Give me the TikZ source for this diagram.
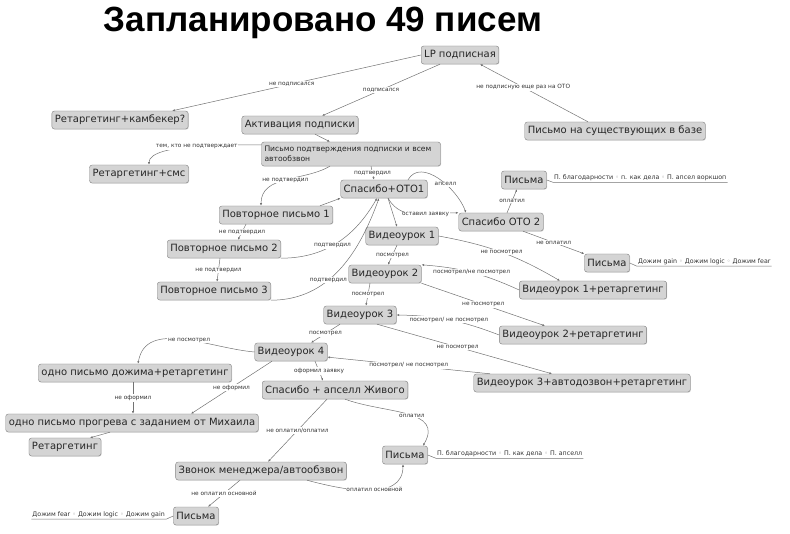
\documentclass[tikz,border=0pt]{standalone}
\usepackage{fontspec}
\setmainfont{DejaVu Sans}
\newfontfamily\titlefont{Liberation Sans}
\usetikzlibrary{arrows.meta,shadows}
\newcommand\lsep{{\color{black!40}◦}}
\begin{document}
\begin{tikzpicture}[x=1pt,y=-1pt,
    box/.style={draw=black!50,fill=black!17,rounded corners=2.5pt,text=black!85,
      font=\fontsize{10}{11.5}\selectfont,minimum height=18pt,inner xsep=3pt,inner ysep=1pt,
      drop shadow={shadow xshift=.6pt,shadow yshift=-.6pt,opacity=.35}},
    link/.style={draw=black!55,line width=.5pt,-{Latex[length=2.6pt,width=2.2pt]}},
    lbl/.style={font=\fontsize{5.8}{6.5}\selectfont,fill=white,inner sep=.8pt,text=black!80},
    lst/.style={font=\fontsize{6.3}{7}\selectfont,inner sep=1pt,text=black!80}]
  \useasboundingbox (0,0) rectangle (790,534);
  \node[font={\titlefont\fontsize{35}{40}\selectfont\bfseries}] (title) at (323,23) {Запланировано 49 писем};
  \node[box] (lp) at (460,55) {LP подписная};
  \node[box] (rk) at (120,120) {Ретаргетинг+камбекер?};
  \node[box] (act) at (300,125) {Активация подписки};
  \node[box] (ex) at (615,131) {Письмо на существующих в базе};
  \node[box,font=\fontsize{7.6}{9.5}\selectfont,align=left,text width=173pt,minimum height=24pt] (conf) at (351,154)
    {Письмо подтверждения подписки и всем\\автообзвон};
  \node[box] (rsms) at (139,174) {Ретаргетинг+смс};
  \node[box] (thx1) at (384,189) {Спасибо+ОТО1};
  \node[box] (rep1) at (276,215) {Повторное письмо 1};
  \node[box] (rep2) at (224,249) {Повторное письмо 2};
  \node[box] (rep3) at (214,291) {Повторное письмо 3};
  \node[box] (vid1) at (402,236) {Видеоурок 1};
  \node[box] (oto2) at (501,222) {Спасибо ОТО 2};
  \node[box] (p1) at (524,180) {Письма};
  \node[box] (p2) at (607,263) {Письма};
  \node[box] (vr1) at (593,290) {Видеоурок 1+ретаргетинг};
  \node[box] (vid2) at (385,274) {Видеоурок 2};
  \node[box] (vid3) at (360,315) {Видеоурок 3};
  \node[box] (vid4) at (291,352) {Видеоурок 4};
  \node[box] (sz) at (335,390) {Спасибо + апселл Живого};
  \node[box] (vr2) at (573,335) {Видеоурок 2+ретаргетинг};
  \node[box] (vr3) at (582,383) {Видеоурок 3+автодозвон+ретаргетинг};
  \node[box] (dz) at (135,373) {одно письмо дожима+ретаргетинг};
  \node[box] (pr) at (132,423) {одно письмо прогрева с заданием от Михаила};
  \node[box] (rt) at (65,447) {Ретаргетинг};
  \node[box] (call) at (261,471) {Звонок менеджера/автообзвон};
  \node[box] (pm) at (405,455) {Письма};
  \node[box] (pb) at (196,516) {Письма};

  \node[lst,anchor=west] (p1l) at (553,178) {П. благодарности \lsep{} п. как дела \lsep{} П. апсел воркшоп};
  \node[lst,anchor=west] (p2l) at (637,262) {Дожим gain \lsep{} Дожим logic \lsep{} Дожим fear};
  \node[lst,anchor=west] (pml) at (436,454) {П. благодарности \lsep{} П. как дела \lsep{} П. апселл};
  \node[lst,anchor=east] (pbl) at (166,515) {Дожим fear \lsep{} Дожим logic \lsep{} Дожим gain};
  \draw[black!55,line width=.5pt] (p1.east) to[out=0,in=180] (p1l.south west) -- (p1l.south east);
  \draw[black!55,line width=.5pt] (p2.east) to[out=0,in=180] (p2l.south west) -- (p2l.south east);
  \draw[black!55,line width=.5pt] (pm.east) to[out=0,in=180] (pml.south west) -- (pml.south east);
  \draw[black!55,line width=.5pt] (pb.west) to[out=180,in=0] (pbl.south east) -- (pbl.south west);

  \draw[link] (lp.west) -- node[lbl,pos=.52]{не подписался} (rk.10);
  \draw[link] ([xshift=-20pt]lp.south) -- node[lbl]{подписался} ([xshift=22pt]act.north);
  \draw[link] ([xshift=-27pt]ex.north) -- node[lbl,pos=.6]{не подписную еще раз на ОТО} ([xshift=20pt]lp.south);
  \draw[link] ([xshift=15pt]act.south) -- ([xshift=-21pt]conf.north);
  \draw[link] ([yshift=9pt]conf.west) to[out=180,in=90,looseness=.5] node[lbl]{тем, кто не подтверждает} ([xshift=10pt]rsms.north);
  \draw[link] ([xshift=20pt]conf.south) -- node[lbl]{подтвердил} ([xshift=-10pt]thx1.north);
  \draw[link] ([xshift=-21pt]conf.south) to[out=210,in=90] node[lbl]{не подтвердил} ([xshift=-15pt]rep1.north);
  \draw[link] ([xshift=44pt]rep1.north) -- (thx1.south west);
  \draw[link] ([xshift=-30pt]rep1.south) -- node[lbl]{не подтвердил} ([xshift=14pt]rep2.north);
  \draw[link] (rep2.south east) to[out=0,in=-120] node[lbl,pos=.45]{подтвердил} ([xshift=-7pt]thx1.south);
  \draw[link] ([xshift=-4pt]rep2.south) -- node[lbl]{не подтвердил} ([xshift=3pt]rep3.north);
  \draw[link] (rep3.south east) to[out=0,in=-110] node[lbl,pos=.4]{подтвердил} ([xshift=-5pt]thx1.south);
  \draw[link] ([xshift=24pt]thx1.north) to[out=60,in=110] node[lbl,pos=.6]{апселл} ([xshift=-35pt]oto2.north);
  \draw[link] ([xshift=4pt]thx1.south) to[out=-60,in=180] node[lbl,pos=.6]{оставил заявку} (oto2.north west);
  \draw[link] ([xshift=4pt]thx1.south) -- ([xshift=-5pt]vid1.north);
  \draw[link] ([xshift=6pt]oto2.north) -- node[lbl]{оплатил} ([xshift=-7pt]p1.south);
  \draw[link] ([xshift=22pt]oto2.south) -- node[lbl]{не оплатил} (p2.north west);
  \draw[link] (vid1.east) to[bend left=10] node[lbl]{не посмотрел} ([xshift=-33pt]vr1.north);
  \draw[link] ([xshift=-5pt]vid1.south) -- node[lbl]{посмотрел} ([xshift=3pt]vid2.north);
  \draw[link] (vr1.west) to[bend right=10] node[lbl]{посмотрел/не посмотрел} (vid2.north east);
  \draw[link] (vid2.south east) -- node[lbl]{не посмотрел} ([xshift=-28pt]vr2.north);
  \draw[link] ([xshift=-15pt]vid2.south) -- node[lbl]{посмотрел} ([xshift=6pt]vid3.north);
  \draw[link] (vr2.west) to[bend right=10] node[lbl]{посмотрел/ не посмотрел} (vid3.east);
  \draw[link] ([xshift=17pt]vid3.south) -- node[lbl,pos=.46]{не посмотрел} ([xshift=-30pt]vr3.north);
  \draw[link] ([xshift=-20pt]vid3.south) -- node[lbl]{посмотрел} ([xshift=20pt]vid4.north);
  \draw[link] ([xshift=-92pt]vr3.north) -- node[lbl]{посмотрел/ не посмотрел} (vid4.-8);
  \draw[link] (vid4.west) to[out=175,in=80] node[lbl,pos=.45]{не посмотрел} ([xshift=3pt]dz.north);
  \draw[link] ([xshift=24pt]vid4.south) -- node[lbl]{оформил заявку} ([xshift=-12pt]sz.north);
  \draw[link] ([xshift=-19pt]vid4.south) -- node[lbl]{не оформил} ([xshift=59pt]pr.north);
  \draw[link] ([xshift=-2pt]dz.south) -- node[lbl]{не оформил} ([xshift=1pt]pr.north);
  \draw[link] ([xshift=-22pt]pr.south) -- ([xshift=25pt]rt.north);
  \draw[link] ([xshift=-8pt]sz.south) -- node[lbl]{не оплатил/оплатил} ([xshift=7pt]call.north);
  \draw[link] ([xshift=10pt]sz.south) to[out=-20,in=60,looseness=1.2] node[lbl,pos=.55]{оплатил} ([xshift=18pt]pm.north);
  \draw[link] ([xshift=46pt]call.south) to[out=-15,in=-90] node[lbl,pos=.55]{оплатил основной} ([xshift=-2pt]pm.south);
  \draw[link] ([xshift=-21pt]call.south) -- node[lbl]{не оплатил основной} ([xshift=12pt]pb.north);
\end{tikzpicture}
\end{document}
